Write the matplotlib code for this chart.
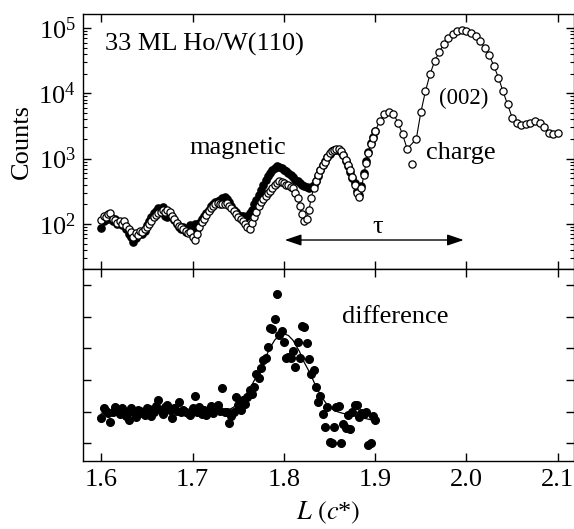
import numpy as np
import matplotlib.pyplot as plt
from matplotlib.ticker import LogLocator, NullFormatter

plt.rcParams['font.family'] = ['Liberation Serif', 'DejaVu Serif']
plt.rcParams['mathtext.fontset'] = 'stix'

# scan 1.600 .. 1.900 in steps of 0.0025 (both polarisations + difference)
step_lo = 0.0025
charge_lo = [115, 132, 126, 141, 148, 120, 115, 105, 112, 100, 110, 93, 85, 76, 63, 72, 68, 79, 76, 85,
             89, 100, 112, 126, 138, 148, 151, 162, 155, 166, 151, 132, 120, 105, 93, 89, 83, 79, 72, 74,
             63, 56, 71, 89, 107, 120, 135, 158, 174, 191, 200, 209, 200, 204, 200, 209, 186, 178, 158, 141,
             126, 117, 112, 100, 89, 85, 105, 126, 151, 186, 214, 240, 269, 295, 316, 355, 398, 427, 447, 437,
             417, 398, 389, 372, 355, 302, 251, 191, 141, 112, 117, 166, 251, 355, 447, 562, 661, 794, 891, 1047,
             1202, 1318, 1380, 1413, 1413, 1318, 1148, 955, 794, 661, 525, 398, 302, 263, 355, 562, 871, 1230, 1660, 2089,
             2630]
magnetic = [87, 112, 126, 120, 132, 110, 120, 100, 107, 95, 100, 83, 71, 63, 52, 60, 71, 76, 69, 79,
            95, 110, 126, 145, 158, 178, 166, 182, 132, 126, 138, 126, 115, 100, 91, 83, 89, 76, 83, 95,
            89, 100, 85, 105, 120, 132, 145, 166, 186, 200, 214, 224, 234, 251, 263, 240, 214, 191, 166, 151,
            138, 132, 132, 126, 132, 148, 166, 200, 234, 282, 331, 398, 479, 537, 603, 661, 724, 759, 741, 708,
            676, 646, 603, 562, 525, 479, 447, 417, 398, 380, 363, 355, 372, 398, 457, 550, 661, 794, 912, 1047,
            1175, 1288, 1349, 1380, 1349, 1259, 1122, 933, 759, 631, 501, 417, 316, 282, 380, 603, 912, 1259, 1738, 2138,
            2692]
difference = [0.80, 1.10, 1.02, 0.95, 0.68, 1.00, 1.15, 1.05, 0.92, 1.10, 0.98, 0.85, 0.74, 1.12, 1.00, 0.82, 1.05, 1.02, 0.97, 0.90,
              1.12, 1.08, 0.85, 1.00, 1.18, 1.37, 1.05, 0.92, 1.15, 1.20, 1.05, 0.80, 1.10, 1.02, 1.30, 0.98, 1.05, 1.00, 0.95, 0.90,
              1.12, 1.49, 1.00, 1.15, 0.92, 1.05, 0.88, 1.00, 1.18, 0.95, 1.05, 1.22, 1.02, 1.75, 0.98, 1.00, 0.64, 0.85, 1.00, 1.46,
              1.20, 1.05, 1.37, 1.25, 1.45, 1.69, 1.55, 1.78, 2.20, 2.05, 2.37, 2.63, 2.70, 3.05, 3.63, 3.60, 3.92, 4.71, 3.42, 3.53,
              3.20, 2.70, 2.72, 2.68, 2.90, 2.40, 3.20, 2.70, 3.70, 3.68, 3.16, 2.65, 2.20, 2.30, 1.78, 1.30, 1.49, 0.93, 0.52, 1.15,
              0.05, 0.00, 0.52, 1.15, 1.18, 0.00, 0.60, 0.49, 0.90, 0.45, 1.00, 1.20, 1.20, 0.84, 0.95, 0.92, 1.00, -0.05, 0.00, 0.86,
              0.73]

# charge scan 1.905 .. 2.100 in steps of 0.005
step_hi = 0.005
charge_hi = [3802, 4786, 5129, 4898, 3548, 2344, 1413, 832, 1995, 5129,
             10715, 19498, 30903, 42658, 56234, 70795, 81283, 89125, 93325, 91201,
             85114, 75858, 63096, 50119, 38019, 26303, 17378, 10715, 6761, 4266,
             3548, 3236, 3388, 3548, 3715, 3548, 3090, 2512, 2399, 2512]
stray_L = [1.940]  # point left off the connecting line

# fitted curve through the difference
fit_L = [1.600, 1.650, 1.700, 1.730, 1.740, 1.745, 1.750, 1.755, 1.760, 1.765, 1.770, 1.775, 1.780, 1.785,
         1.790, 1.796, 1.800, 1.805, 1.810, 1.813, 1.817, 1.822, 1.827, 1.831, 1.835, 1.840, 1.844, 1.849,
         1.856, 1.864, 1.882, 1.897]
fit_val = [0.95, 0.95, 0.95, 0.96, 1.06, 1.14, 1.27, 1.42, 1.60, 1.84, 2.12, 2.42, 2.72, 3.02,
           3.26, 3.43, 3.46, 3.40, 3.25, 3.10, 2.90, 2.57, 2.30, 2.06, 1.80, 1.53, 1.35, 1.16,
           1.02, 0.95, 0.83, 0.73]

xticks = [1.6, 1.7, 1.8, 1.9, 2.0, 2.1]
xtick_labels = ['1.6', '1.7', '1.8', '1.9', '2.0', '2.1']

L_lo = 1.6 + step_lo * np.arange(len(charge_lo))
L_hi = 1.905 + step_hi * np.arange(len(charge_hi))
L_charge = np.concatenate([L_lo, L_hi])
charge = np.concatenate([charge_lo, charge_hi])
keep = ~np.isin(np.round(L_charge, 4), stray_L)

fig = plt.figure(figsize=(5.74, 5.29), dpi=100)
ax1 = fig.add_axes([0.1446, 0.4915, 0.855, 0.482])
ax2 = fig.add_axes([0.1446, 0.1285, 0.855, 0.363], sharex=ax1)

ax1.set_yscale('log')
ax1.plot(L_lo, magnetic, 'o', ms=5.2, mfc='k', mec='k', ls='none', zorder=2)
ax1.plot(L_charge[keep], charge[keep], '-', color='k', lw=0.8, zorder=3)
ax1.plot(L_charge, charge, 'o', ms=5.2, mfc='white', mec='k', mew=0.9, ls='none', zorder=4)
ax1.set_ylim(10**1.31, 10**5.215)
ax1.yaxis.set_major_locator(LogLocator(base=10))
ax1.yaxis.set_minor_locator(LogLocator(base=10, subs=np.arange(2, 10)))
ax1.yaxis.set_minor_formatter(NullFormatter())
ax1.set_ylabel('Counts', fontsize=19, labelpad=4)

ax1.text(1.604, 10**4.75, '33 ML Ho/W(110)', fontsize=19, ha='left', va='center')
ax1.text(1.697, 10**3.17, 'magnetic', fontsize=19, ha='left', va='center')
ax1.text(1.956, 10**3.09, 'charge', fontsize=19, ha='left', va='center')
ax1.text(1.997, 10**3.92, '(002)', fontsize=16.5, ha='center', va='center')
ax1.text(1.903, 10**1.95, 'τ', fontsize=19, ha='center', va='center')
ax1.annotate('', xy=(1.997, 10**1.754), xytext=(1.801, 10**1.754),
             arrowprops=dict(arrowstyle='<|-|>,head_length=0.5,head_width=0.17', color='k',
                             lw=1.0, mutation_scale=20, shrinkA=0, shrinkB=0))

ax2.plot(L_lo, difference, 'o', ms=5.5, color='k', ls='none')
ax2.plot(fit_L, fit_val, '-', color='k', lw=0.9)
ax2.set_ylim(-0.56, 5.5)
ax2.set_yticks([0, 1, 2, 3, 4, 5])
ax2.tick_params(labelleft=False)
ax2.text(1.864, 3.98, 'difference', fontsize=19, ha='left', va='center')

ax2.set_xlim(1.58, 2.1175)
ax2.set_xticks(xticks)
ax2.set_xticklabels(xtick_labels)
ax2.set_xlabel(r'$L\ (c$*$)$', fontsize=19, labelpad=6)

for ax in (ax1, ax2):
    ax.tick_params(which='both', direction='in', top=True, right=True, labelsize=19)
    ax.tick_params(which='major', length=6, width=1)
    ax.tick_params(which='minor', length=3, width=0.8)
    for s in ax.spines.values():
        s.set_linewidth(1.0)
ax1.tick_params(labelbottom=False)
ax1.tick_params(axis='y', pad=5)
ax2.tick_params(axis='x', pad=6)

fig.savefig('out.png', dpi=100)
